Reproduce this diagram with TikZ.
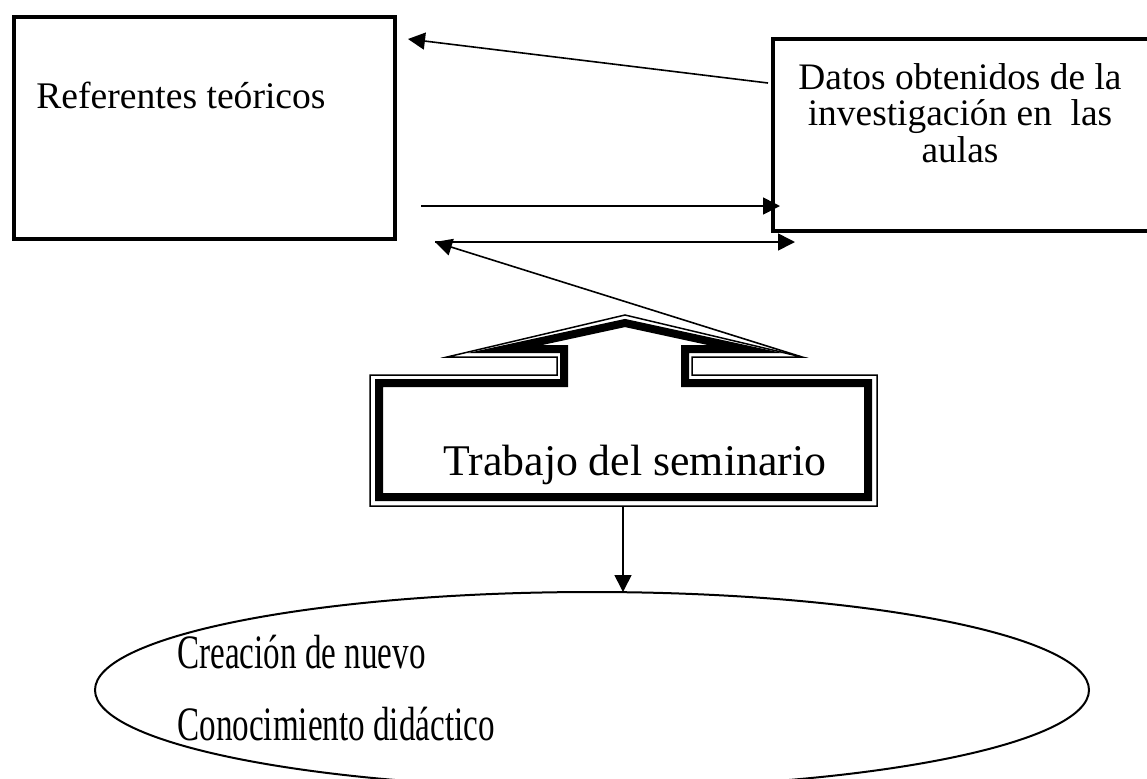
\documentclass[tikz,border=0pt]{standalone}
\usepackage{fontspec}
\setmainfont{Liberation Serif}
\usetikzlibrary{positioning,arrows.meta,shapes.geometric,calc}

\tikzset{
  boxframe/.style={draw, line width=2pt, outer sep=0pt, inner sep=0pt},
  link/.style={line width=0.8pt, -{Triangle[length=8.5pt,width=8.5pt]}},
  thinrim/.style={line width=0.75pt, line join=miter},
  thickrim/.style={line width=4pt, line join=miter},
}

\begin{document}
\begin{tikzpicture}[x=0.5pt, y=-0.5pt]
\useasboundingbox (0,0) rectangle (1147,778);
\clip (0,0) rectangle (1147,778);

% ===== Top boxes =====
\node[boxframe, minimum width=190.5pt, minimum height=111pt] (ref) at (204.5,128) {};
\node[font=\fontsize{18.8}{22}\selectfont, anchor=base west, inner sep=0pt] (reftxt) at (36,108) {Referentes teóricos};

\node[boxframe, minimum width=193.5pt, minimum height=96pt] (dat) at (966.5,135) {};
\node[font=\fontsize{18.7}{18.25}\selectfont, align=center, anchor=north, inner sep=0pt] (dattxt) at (960,63)
  {Datos obtenidos de la\\investigación en\ \ las\\aulas};

% ===== Seminar block arrow =====
\draw[thinrim] (370,375) -- (557,375) -- (557,357) -- (447,357) -- (625,315) -- (802,357)
  -- (692,357) -- (692,375) -- (877,375) -- (877,506) -- (370,506) -- cycle;
\draw[thickrim] (379,383) -- (564,383) -- (564,349) -- (505,349) -- (625,323) -- (745,349)
  -- (685,349) -- (685,383) -- (868,383) -- (868,497) -- (379,497) -- cycle;
\coordinate (tip) at (802,357);
\coordinate (semb) at (623,507);
\node[font=\fontsize{21.9}{26}\selectfont, anchor=base west, inner sep=0pt] (semtxt) at (443,475) {Trabajo del seminario};

% ===== Ellipse =====
\node[ellipse, draw, line width=1pt, minimum width=497pt, minimum height=98pt, inner sep=0pt, outer sep=0pt] (crea) at (592,690) {};
\node[font=\fontsize{24}{36}\selectfont, align=left, anchor=base west, inner sep=0pt] (creatxt) at (177,740)
  {\scalebox{0.69}[1]{Creación de nuevo}\\\scalebox{0.69}[1]{Conocimiento didáctico}};

% ===== Connectors =====
\coordinate (a1) at ($(dat.north west)+(-5,44)$);
\coordinate (b1) at ($(ref.north east)+(13,22)$);
\draw[link] (a1) -- (b1);

\coordinate (a2) at ($(ref.south east)+(26,-33)$);
\coordinate (b2) at ($(dat.south west)+(7,-25)$);
\draw[link] (a2) -- (b2);

\coordinate (a3) at ($(ref.south east)+(40,3)$);
\coordinate (b3) at ($(dat.south west)+(22,11)$);
\draw[link] (a3) -- (b3);
\draw[link] (tip) -- (a3);

\draw[link] (semb) -- (semb |- crea.north);
\end{tikzpicture}
\end{document}
